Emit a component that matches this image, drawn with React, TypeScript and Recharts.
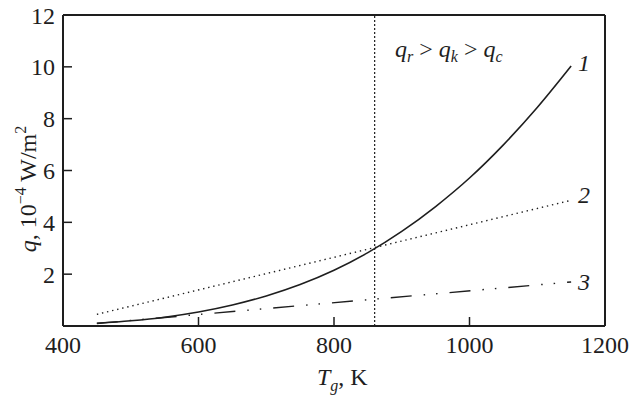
import { LineChart, Line, XAxis, YAxis, ReferenceLine } from "recharts";

// curve 1: q vs Tg (solid)
const temps1 = [450, 500, 550, 600, 650, 700, 750, 800, 850, 900, 950, 1000, 1050, 1100, 1150];
const q1 = [0.1, 0.2, 0.34, 0.54, 0.81, 1.16, 1.6, 2.15, 2.83, 3.65, 4.61, 5.71, 6.99, 8.43, 10.03];
// curve 2 (dotted) and curve 3 (dash-dot-dot)
const temps2 = [450, 1150];
const q2 = [0.45, 4.85];
const temps3 = [450, 1150];
const q3 = [0.1, 1.7];

const xTicks = [400, 600, 800, 1000, 1200];
const yTicks = [2, 4, 6, 8, 10, 12];
const crossT = 860;

const ink = "#1e1e1e";
const font = "'Liberation Serif', 'Times New Roman', serif";

const line1 = temps1.map((t, i) => ({ t, q: q1[i] }));
const line2 = temps2.map((t, i) => ({ t, q: q2[i] }));
const line3 = temps3.map((t, i) => ({ t, q: q3[i] }));

export default function App() {
  const tick = { fontSize: 24, fill: ink, style: { fontFamily: font } };
  return (
    <div style={{ position: "absolute", left: 0, top: 0, width: 641, height: 401, background: "#fff", fontFamily: font }}>
      <LineChart width={641} height={401} margin={{ top: 15, right: 36, bottom: 0, left: 0 }} style={{ fontFamily: font }}>
        <XAxis
          type="number"
          dataKey="t"
          domain={[400, 1200]}
          ticks={xTicks}
          height={75}
          tickSize={-9}
          tickMargin={19}
          tick={tick}
          axisLine={{ stroke: ink, strokeWidth: 2 }}
          tickLine={{ stroke: ink, strokeWidth: 1.5 }}
          allowDataOverflow
        />
        <YAxis
          type="number"
          dataKey="q"
          domain={[0, 12]}
          ticks={yTicks}
          width={63}
          tickSize={-9}
          tickMargin={17}
          tick={tick}
          axisLine={{ stroke: ink, strokeWidth: 2 }}
          tickLine={{ stroke: ink, strokeWidth: 1.5 }}
          allowDataOverflow
        />
        <ReferenceLine y={12} stroke={ink} strokeWidth={2} />
        <ReferenceLine x={1200} stroke={ink} strokeWidth={2} />
        <ReferenceLine x={crossT} stroke={ink} strokeWidth={1.2} strokeDasharray="2 2" />
        <Line data={line2} dataKey="q" type="linear" stroke={ink} strokeWidth={1.4} strokeDasharray="1.4 3.8" dot={false} isAnimationActive={false} />
        <Line data={line3} dataKey="q" type="linear" stroke={ink} strokeWidth={1.4} strokeDasharray="21 12 1.5 11 1.5 12" dot={false} isAnimationActive={false} />
        <Line data={line1} dataKey="q" type="monotone" stroke={ink} strokeWidth={1.6} dot={false} isAnimationActive={false} />
      </LineChart>
      <svg width={641} height={401} style={{ position: "absolute", left: 0, top: 0, pointerEvents: "none", fontFamily: font }}>
        <g fill={ink} fontSize={24}>
          <text transform="translate(36,189) rotate(-90)" textAnchor="middle">
            <tspan fontStyle="italic">q</tspan>
            <tspan>, 10</tspan>
            <tspan fontSize={16} dy={-10}>−4</tspan>
            <tspan dy={10}> W/m</tspan>
            <tspan fontSize={16} dy={-10}>2</tspan>
          </text>
          <text x={317} y={385}>
            <tspan fontStyle="italic">T</tspan>
            <tspan fontStyle="italic" fontSize={16} dy={6}>g</tspan>
            <tspan dy={-6}>, K</tspan>
          </text>
          <text x={395} y={57}>
            <tspan fontStyle="italic">q</tspan>
            <tspan fontStyle="italic" fontSize={16} dy={5}>r</tspan>
            <tspan dy={-5}> &gt; </tspan>
            <tspan fontStyle="italic">q</tspan>
            <tspan fontStyle="italic" fontSize={16} dy={5}>k</tspan>
            <tspan dy={-5}> &gt; </tspan>
            <tspan fontStyle="italic">q</tspan>
            <tspan fontStyle="italic" fontSize={16} dy={5}>c</tspan>
          </text>
          <text x={578} y={71} fontStyle="italic">1</text>
          <text x={578} y={203} fontStyle="italic">2</text>
          <text x={578} y={290} fontStyle="italic">3</text>
        </g>
      </svg>
    </div>
  );
}
